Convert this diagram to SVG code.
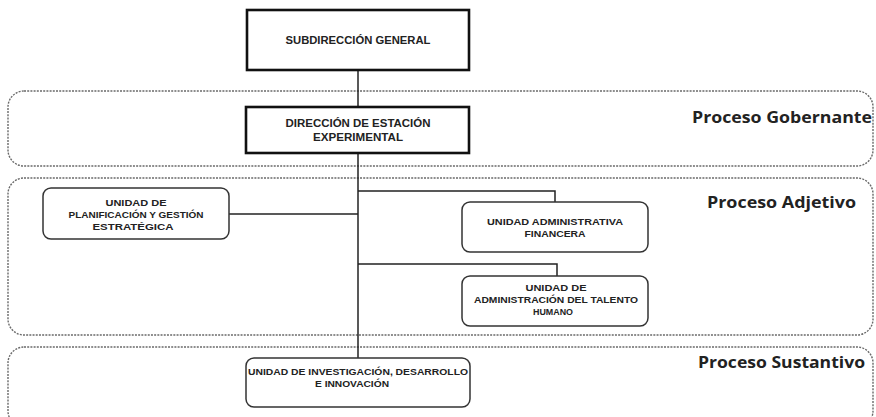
<svg xmlns="http://www.w3.org/2000/svg" width="876" height="417" viewBox="0 0 876 417">
<style>
.band{fill:none;stroke:#6a6a6a;stroke-width:1.4;stroke-dasharray:2 1.2}
.sq{fill:#fff;stroke:#111;stroke-width:2.6}
.rd{fill:#fff;stroke:#333;stroke-width:1.5}
.t{font-family:"Liberation Sans",Arial,sans-serif;font-weight:bold;font-size:9px;fill:#222;text-anchor:middle}
.tb{font-size:10px}
.lbl{font-family:"Open Sans","Liberation Sans",sans-serif;font-weight:bold;font-size:16px;fill:#222}
.c{fill:none;stroke:#222;stroke-width:1.5}
</style>
<rect width="876" height="417" fill="#fff"/>
<g id="bands">
<rect class="band" x="8" y="91" width="865" height="75" rx="16" ry="16"/>
<rect class="band" x="8" y="178" width="865" height="157" rx="16" ry="16"/>
<rect class="band" x="8" y="347" width="865" height="80" rx="16" ry="16"/>
<text class="lbl" x="692" y="123" textLength="180" lengthAdjust="spacingAndGlyphs">Proceso Gobernante</text>
<text class="lbl" x="707" y="208" textLength="149" lengthAdjust="spacingAndGlyphs">Proceso Adjetivo</text>
<text class="lbl" x="698" y="368" textLength="167" lengthAdjust="spacingAndGlyphs">Proceso Sustantivo</text>
</g>
<g id="connectors">
<path class="c" d="M358 70V358"/>
<path class="c" d="M229 214H358"/>
<path class="c" d="M358 191H555V202"/>
<path class="c" d="M358 264H557V276"/>
</g>
<g id="subdireccion">
<rect class="sq" x="247" y="10" width="222" height="60"/>
<text class="t tb" x="358" y="44" textLength="145" lengthAdjust="spacingAndGlyphs">SUBDIRECCIÓN GENERAL</text>
</g>
<g id="direccion">
<rect class="sq" x="246" y="107" width="223" height="46"/>
<text class="t tb" x="358" y="127" textLength="145" lengthAdjust="spacingAndGlyphs">DIRECCIÓN DE ESTACIÓN</text>
<text class="t tb" x="358" y="141" textLength="90" lengthAdjust="spacingAndGlyphs">EXPERIMENTAL</text>
</g>
<g id="planificacion">
<rect class="rd" x="43" y="188" width="186" height="51" rx="8" ry="8"/>
<text class="t" x="136" y="206" textLength="61" lengthAdjust="spacingAndGlyphs">UNIDAD DE</text>
<text class="t" x="136" y="218" textLength="135" lengthAdjust="spacingAndGlyphs">PLANIFICACIÓN Y GESTIÓN</text>
<text class="t" x="133" y="230" textLength="81" lengthAdjust="spacingAndGlyphs">ESTRATÉGICA</text>
</g>
<g id="financiera">
<rect class="rd" x="462" y="202" width="186" height="50" rx="8" ry="8"/>
<text class="t" x="555" y="225" textLength="136" lengthAdjust="spacingAndGlyphs">UNIDAD ADMINISTRATIVA</text>
<text class="t" x="555" y="237" textLength="61" lengthAdjust="spacingAndGlyphs">FINANCERA</text>
</g>
<g id="talento">
<rect class="rd" x="462" y="276" width="186" height="50" rx="8" ry="8"/>
<text class="t" x="556" y="291" textLength="61" lengthAdjust="spacingAndGlyphs">UNIDAD DE</text>
<text class="t" x="556" y="303" textLength="164" lengthAdjust="spacingAndGlyphs">ADMINISTRACIÓN DEL TALENTO</text>
<text class="t" x="553" y="315" textLength="40" lengthAdjust="spacingAndGlyphs">HUMANO</text>
</g>
<g id="investigacion">
<rect class="rd" x="246" y="358" width="224" height="49" rx="8" ry="8"/>
<text class="t" x="358" y="375" textLength="220" lengthAdjust="spacingAndGlyphs">UNIDAD DE INVESTIGACIÓN, DESARROLLO</text>
<text class="t" x="352" y="387" textLength="74" lengthAdjust="spacingAndGlyphs">E INNOVACIÓN</text>
</g>
</svg>
